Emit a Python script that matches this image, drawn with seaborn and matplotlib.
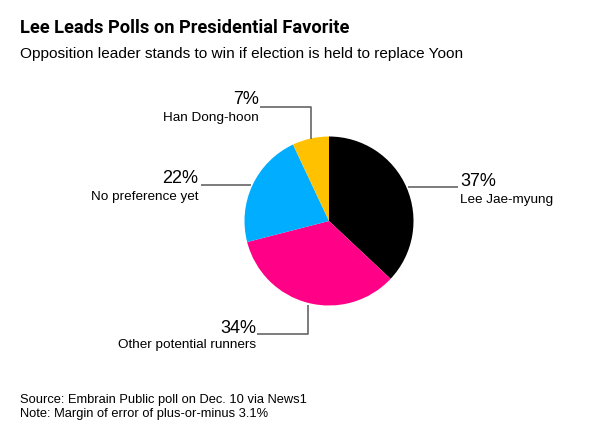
import matplotlib
matplotlib.use("Agg")
import matplotlib.pyplot as plt
import seaborn as sns

# ---- data ----
categories = ["Lee Jae-myung", "Other potential runners", "No preference yet", "Han Dong-hoon"]
shares = [37, 34, 22, 7]
pct_labels = ["37%", "34%", "22%", "7%"]
colors = ["#000000", "#FF0087", "#00ADFF", "#FFC100"]

title = "Lee Leads Polls on Presidential Favorite"
subtitle = "Opposition leader stands to win if election is held to replace Yoon"
source = "Source: Embrain Public poll on Dec. 10 via News1"
note = "Note: Margin of error of plus-or-minus 3.1%"

sns.set_theme(style="white")
plt.rcParams["font.family"] = ["Liberation Sans", "DejaVu Sans"]

W, H = 605, 431
fig = plt.figure(figsize=(W / 100, H / 100), dpi=100)
ax = fig.add_axes([0, 0, 1, 1])

cx, cy, r = 329, H - 222, 84.5
ax.pie(shares, colors=colors, startangle=90, counterclock=False,
       center=(cx, cy), radius=r, wedgeprops=dict(linewidth=0))
ax.set_xlim(0, W)
ax.set_ylim(0, H)
ax.set_aspect("equal")
ax.axis("off")

def Y(y):
    return H - y

line_kw = dict(color="#666666", lw=1.2, solid_capstyle="butt")
# Han Dong-hoon
ax.plot([260, 311, 311], [Y(107.7), Y(107.7), Y(139.5)], **line_kw)
# No preference
ax.plot([200.5, 251], [Y(185.5), Y(185.5)], **line_kw)
# Lee
ax.plot([408, 458], [Y(188), Y(188)], **line_kw)
# Other
ax.plot([257, 308, 308], [Y(335), Y(335), Y(305.5)], **line_kw)

pct_fs = 13
name_fs = 9.7
# Lee
ax.text(460, Y(186), pct_labels[0], fontsize=pct_fs, ha="left", va="baseline", color="#000")
ax.text(460, Y(203), categories[0], fontsize=name_fs, ha="left", va="baseline", color="#000")
# Other
ax.text(256, Y(333), pct_labels[1], fontsize=pct_fs, ha="right", va="baseline", color="#000")
ax.text(256, Y(348.5), categories[1], fontsize=name_fs, ha="right", va="baseline", color="#000")
# No preference
ax.text(198.5, Y(182.7), pct_labels[2], fontsize=pct_fs, ha="right", va="baseline", color="#000")
ax.text(198.5, Y(200), categories[2], fontsize=name_fs, ha="right", va="baseline", color="#000")
# Han
ax.text(258.5, Y(104.3), pct_labels[3], fontsize=pct_fs, ha="right", va="baseline", color="#000")
ax.text(258.5, Y(121), categories[3], fontsize=name_fs, ha="right", va="baseline", color="#000")

# titles and footer
ax.text(20, Y(32.7), title, fontsize=13.15, fontweight="bold", family=["Roboto", "Liberation Sans"],
        ha="left", va="baseline", color="#000")
ax.text(20, Y(57.7), subtitle, fontsize=11.05, ha="left", va="baseline", color="#000")
ax.text(20, Y(402.7), source, fontsize=9.3, ha="left", va="baseline", color="#000")
ax.text(20, Y(416.7), note, fontsize=9.3, ha="left", va="baseline", color="#000")

fig.savefig("out.png", dpi=100, facecolor="white")
